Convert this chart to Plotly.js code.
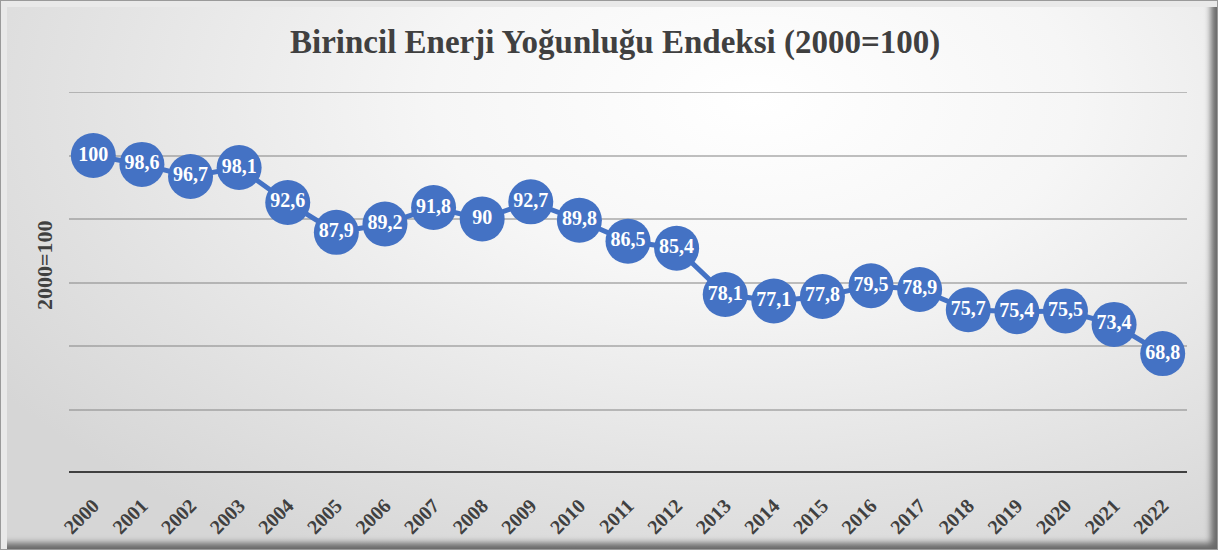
<!DOCTYPE html>
<html>
<head>
<meta charset="utf-8">
<script src="https://cdn.plot.ly/plotly-3.0.1.min.js"></script>
<style>
  html, body { margin: 0; padding: 0; background: #ffffff; }
  #frame {
    position: absolute; left: 0; top: 0; width: 1218px; height: 550px;
    box-sizing: border-box;
    background: radial-gradient(ellipse 75% 95% at 62% 18%, #ffffff 0%, #f6f6f6 35%, #e2e2e2 75%, #d6d6d6 100%);
    border: 1px solid #9a9a9a;
    box-shadow: inset 8px 8px 0 -2px #e9e9e9, inset -8px -8px 6px -2px #6a6a6a;
  }
  #chart { position: absolute; left: 0; top: 0; width: 1218px; height: 550px; }
</style>
</head>
<body>
<div id="frame"></div>
<div id="chart"></div>
<script>
const years = ['2000','2001','2002','2003','2004','2005','2006','2007','2008','2009','2010','2011','2012','2013','2014','2015','2016','2017','2018','2019','2020','2021','2022'];
const indexValues = [100, 98.6, 96.7, 98.1, 92.6, 87.9, 89.2, 91.8, 90, 92.7, 89.8, 86.5, 85.4, 78.1, 77.1, 77.8, 79.5, 78.9, 75.7, 75.4, 75.5, 73.4, 68.8];
const labels = indexValues.map(v => String(v).replace('.', ','));

const blue = '#4472C4';
const serif = 'Liberation Serif, DejaVu Serif, serif';
const gridColor = 'rgba(140,140,140,0.55)';

const trace = {
  type: 'scatter',
  mode: 'lines+markers+text',
  x: years,
  y: indexValues,
  text: labels,
  textposition: 'middle center',
  textfont: { family: serif, size: 20, color: '#ffffff', weight: 'bold' },
  line: { color: blue, width: 5 },
  marker: { color: blue, size: 45, line: { width: 0 } },
  hoverinfo: 'x+y',
  cliponaxis: false
};

const layout = {
  width: 1218, height: 550,
  paper_bgcolor: 'rgba(0,0,0,0)',
  plot_bgcolor: 'rgba(0,0,0,0)',
  margin: { l: 69, r: 31, t: 92, b: 77 },
  showlegend: false,
  title: {
    text: '<b>Birincil Enerji Yoğunluğu Endeksi (2000=100)</b>',
    font: { family: serif, size: 33, color: '#404040' },
    x: 0.505, xanchor: 'center', y: 0.924, yanchor: 'middle'
  },
  xaxis: {
    type: 'category',
    range: [-0.5, 22.5],
    tickangle: -45,
    tickfont: { family: serif, size: 20, color: '#404040', weight: 'bold' },
    showgrid: false,
    showline: false,
    zeroline: false,
    ticks: 'outside',
    ticklen: 12,
    tickcolor: 'rgba(0,0,0,0)'
  },
  yaxis: {
    range: [50, 110],
    dtick: 10,
    tick0: 50,
    showticklabels: false,
    showgrid: true,
    gridcolor: gridColor,
    gridwidth: 2,
    zeroline: false,
    showline: false,
    ticks: ''
  },
  annotations: [{
    text: '<b>2000=100</b>',
    xref: 'paper', yref: 'paper',
    x: -0.0215, y: 0.546,
    xanchor: 'center', yanchor: 'middle',
    textangle: -90,
    showarrow: false,
    font: { family: serif, size: 22, color: '#404040' }
  }],
  shapes: [
    {
      type: 'line', xref: 'paper', yref: 'y', layer: 'below',
      x0: 0, x1: 1, y0: 110, y1: 110,
      line: { color: gridColor, width: 2 }
    },
    {
      type: 'line', xref: 'paper', yref: 'y',
      x0: 0, x1: 1, y0: 50, y1: 50,
      line: { color: '#404040', width: 4 }
    }
  ]
};

Plotly.newPlot('chart', [trace], layout, { displayModeBar: false, staticPlot: true });
</script>
</body>
</html>
